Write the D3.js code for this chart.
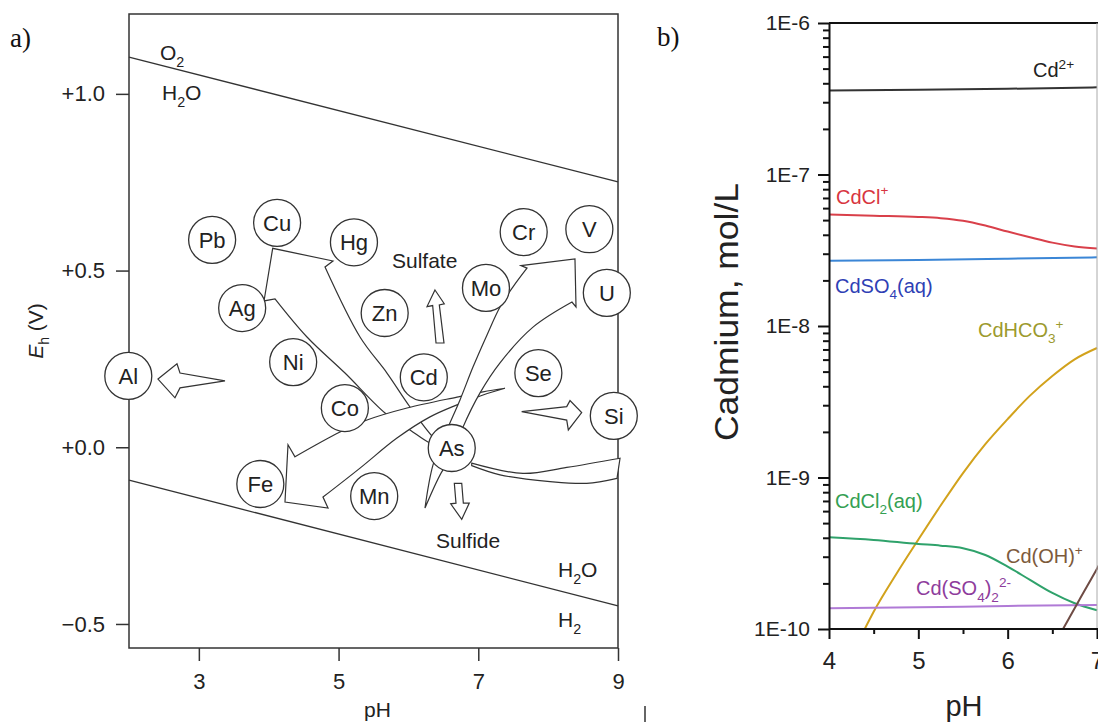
<!DOCTYPE html>
<html>
<head>
<meta charset="utf-8">
<script src="https://cdn.jsdelivr.net/npm/d3@7"></script>
<style>
  body { margin: 0; background: #fff; }
  svg { display: block; font-family: "Liberation Sans", Arial, Helvetica, sans-serif; }
</style>
</head>
<body>
<div id="chart"></div>
<script>
// Panel a: Eh-pH diagram with element mobility arrows
// Panel b: cadmium speciation vs pH (log scale)

// ---------- panel a data ----------
var waterPH = [2, 9];
var o2Line = [1.104, 0.751];    // O2 / H2O boundary (V)
var h2Line = [-0.093, -0.449];  // H2O / H2 boundary (V)

var elementNames = ["Pb", "Cu", "Hg", "Cr", "V", "Mo", "U", "Zn", "Ag", "Ni", "Cd", "Se", "Al", "Co", "Si", "As", "Fe", "Mn"];
var elementPH = [3.19, 4.12, 5.22, 7.65, 8.59, 7.11, 8.84, 5.66, 3.62, 4.35, 6.22, 7.86, 1.99, 5.09, 8.94, 6.62, 3.88, 5.51];
var elementEh = [0.587, 0.635, 0.580, 0.609, 0.617, 0.451, 0.437, 0.380, 0.394, 0.241, 0.198, 0.210, 0.202, 0.111, 0.089, -0.002, -0.104, -0.138];

// straight hollow arrows, outline points [pH, Eh]
var arrowAl = [[2.415, 0.193], [2.687, 0.236], [2.730, 0.210], [3.374, 0.188], [2.730, 0.168], [2.658, 0.140]];
var arrowSi = [[7.621, 0.101], [8.266, 0.115], [8.313, 0.132], [8.480, 0.098], [8.289, 0.049], [8.266, 0.077]];
var arrowSulfate = [[6.380, 0.445], [6.513, 0.406], [6.442, 0.403], [6.509, 0.295], [6.395, 0.295], [6.347, 0.401], [6.266, 0.398]];
var arrowSulfide = [[6.657, -0.102], [6.763, -0.102], [6.786, -0.158], [6.871, -0.158], [6.763, -0.204], [6.605, -0.160], [6.681, -0.158]];

// curved arrows, given as a list of edges (each edge smoothed on its own)
var arrowCu = [
  [[6.524, 0.001], [6.309, 0.012], [6.023, 0.049], [5.665, 0.097], [5.092, 0.210], [4.548, 0.312], [4.090, 0.420]],
  [[4.090, 0.420], [3.933, 0.414]],
  [[3.933, 0.414], [4.057, 0.563]],
  [[4.057, 0.563], [4.920, 0.527]],
  [[4.920, 0.527], [4.806, 0.510]],
  [[4.806, 0.510], [5.307, 0.312], [5.693, 0.210], [6.023, 0.114], [6.352, 0.029], [6.524, 0.001]]
];
var arrowFe = [
  [[7.382, 0.167], [7.068, 0.157], [6.695, 0.142], [5.980, 0.111], [5.407, 0.077], [5.020, 0.043], [4.376, -0.027]],
  [[4.376, -0.027], [4.276, 0.007]],
  [[4.276, 0.007], [4.233, -0.155]],
  [[4.233, -0.155], [4.849, -0.172]],
  [[4.849, -0.172], [4.777, -0.141]],
  [[4.777, -0.141], [5.307, -0.059], [5.836, 0.026], [6.309, 0.086], [6.695, 0.120], [7.068, 0.148], [7.382, 0.167]]
];
var arrowV = [
  [[6.237, -0.172], [6.352, -0.050], [6.538, 0.043], [6.738, 0.134], [6.924, 0.227], [7.125, 0.318], [7.311, 0.397], [7.497, 0.454], [7.697, 0.507]],
  [[7.697, 0.507], [7.611, 0.514]],
  [[7.611, 0.514], [8.384, 0.533]],
  [[8.384, 0.533], [8.399, 0.397]],
  [[8.399, 0.397], [8.341, 0.411]],
  [[8.341, 0.411], [7.783, 0.340], [7.311, 0.239], [7.025, 0.154], [6.781, 0.057], [6.595, -0.042], [6.495, -0.064], [6.237, -0.172]]
];
var arrowAsSi = [
  [[6.906, -0.045], [7.640, -0.074], [8.266, -0.057], [9.029, -0.031]],
  [[9.029, -0.031], [8.986, -0.088]],
  [[8.986, -0.088], [8.552, -0.102], [8.027, -0.097], [7.311, -0.078], [6.906, -0.052]]
];

// ---------- panel b data ----------
var phFlat = [4, 5, 6, 7];
var cd2Plus = [3.58e-7, 3.62e-7, 3.68e-7, 3.76e-7];
var cdSO4 = [2.70e-8, 2.73e-8, 2.78e-8, 2.84e-8];
var cdSO4x2 = [1.37e-10, 1.39e-10, 1.42e-10, 1.44e-10];

var phChloride = [4, 4.5, 5, 5.25, 5.5, 5.75, 6, 6.25, 6.5, 6.75, 7];
var cdClPlus = [5.45e-8, 5.35e-8, 5.25e-8, 5.15e-8, 4.95e-8, 4.6e-8, 4.2e-8, 3.85e-8, 3.55e-8, 3.35e-8, 3.25e-8];
var cdCl2 = [4.03e-10, 3.87e-10, 3.64e-10, 3.55e-10, 3.41e-10, 3.08e-10, 2.58e-10, 2.11e-10, 1.73e-10, 1.48e-10, 1.33e-10];

var phBicarb = [4.4, 4.5, 4.75, 5, 5.25, 5.5, 5.75, 6, 6.25, 6.5, 6.75, 7];
var cdHCO3 = [1.0e-10, 1.3e-10, 2.29e-10, 3.89e-10, 6.53e-10, 1.07e-9, 1.66e-9, 2.43e-9, 3.47e-9, 4.68e-9, 6.03e-9, 7.16e-9];

var phHydroxo = [6.62, 6.8, 7.0, 7.1];
var cdOHPlus = [1.0e-10, 1.55e-10, 2.5e-10, 3.2e-10];

var speciesLabelParts = [
  [["Cd", ""], ["2+", "sup"]],
  [["CdCl", ""], ["+", "sup"]],
  [["CdSO", ""], ["4", "sub"], ["(aq)", ""]],
  [["CdHCO", ""], ["3", "sub"], ["+", "sup"]],
  [["CdCl", ""], ["2", "sub"], ["(aq)", ""]],
  [["Cd(SO", ""], ["4", "sub"], [")", ""], ["2", "sub"], ["2-", "sup"]],
  [["Cd(OH)", ""], ["+", "sup"]]
];
var speciesLabelPH = [6.284, 4.078, 4.067, 5.668, 4.067, 4.974, 5.981];
var speciesLabelConc = [4.4e-7, 6.4e-8, 1.65e-8, 8.45e-9, 6.3e-10, 1.67e-10, 2.73e-10];
var speciesLabelColor = ["#222", "#d8353f", "#2f3fb5", "#9c9a2e", "#34a053", "#8e3c9c", "#7d5a3c"];

// ---------- set up ----------
var svgWidth = 1098;
var svgHeight = 724;

var svg = d3.select("#chart")
  .append("svg")
  .attr("width", svgWidth)
  .attr("height", svgHeight);

// writes text with sub/superscript pieces as tspans
function richText(sel, parts, fs) {
  var shift = 0;
  parts.forEach(function(p) {
    var target = p[1] === "sub" ? 0.32 * fs : p[1] === "sup" ? -0.42 * fs : 0;
    sel.append("tspan")
      .attr("dy", target - shift)
      .attr("font-size", p[1] ? fs * 0.68 : fs)
      .text(p[0]);
    shift = target;
  });
}

// =================================
// Panel a
// =================================
var xA = d3.scaleLinear().domain([2, 9]).range([129, 618]);
var yA = d3.scaleLinear().domain([-0.568, 1.226]).range([648, 14]);

var gA = svg.append("g");

gA.append("text")
  .attr("x", 10).attr("y", 47)
  .attr("font-family", "'Liberation Serif', 'Times New Roman', serif")
  .attr("font-size", 27)
  .attr("fill", "#111")
  .text("a)");

// frame
gA.append("rect")
  .attr("x", xA(2)).attr("y", yA(1.226))
  .attr("width", xA(9) - xA(2))
  .attr("height", yA(-0.568) - yA(1.226))
  .attr("fill", "none")
  .attr("stroke", "#333")
  .attr("stroke-width", 1.5);

// axes
var ehFormat = function(d) {
  if (d < 0) return "\u2212" + Math.abs(d).toFixed(1);
  return "+" + d.toFixed(1);
};
var axA = gA.append("g")
  .attr("transform", "translate(" + xA(2) + ",0)")
  .call(d3.axisLeft(yA).tickValues([1.0, 0.5, 0, -0.5]).tickFormat(ehFormat).tickSize(13).tickPadding(11).tickSizeOuter(0));
var bxA = gA.append("g")
  .attr("transform", "translate(0," + yA(-0.568) + ")")
  .call(d3.axisBottom(xA).tickValues([3, 5, 7, 9]).tickFormat(d3.format("d")).tickSize(13).tickPadding(12).tickSizeOuter(0));
[axA, bxA].forEach(function(a) {
  a.select(".domain").remove();
  a.selectAll(".tick line").attr("stroke", "#333").attr("stroke-width", 1.5);
  a.selectAll(".tick text").attr("font-size", 22).attr("fill", "#222")
    .attr("font-family", "'Liberation Sans', Arial, sans-serif");
});

gA.append("text")
  .attr("x", (xA(2) + xA(9)) / 2 + 4).attr("y", 717)
  .attr("text-anchor", "middle")
  .attr("font-size", 21).attr("fill", "#222")
  .text("pH");

var ehLabel = gA.append("text")
  .attr("transform", "translate(43,331) rotate(-90)")
  .attr("text-anchor", "middle")
  .attr("font-size", 21).attr("fill", "#222");
ehLabel.append("tspan").attr("font-style", "italic").text("E");
ehLabel.append("tspan").attr("font-size", 14).attr("dy", 6).text("h");
ehLabel.append("tspan").attr("dy", -6).text(" (V)");

// water stability lines
var lineA = d3.line().x(function(d) { return xA(d[0]); }).y(function(d) { return yA(d[1]); });
[o2Line, h2Line].forEach(function(vals) {
  gA.append("path")
    .datum(waterPH.map(function(p, i) { return [p, vals[i]]; }))
    .attr("d", lineA)
    .attr("fill", "none")
    .attr("stroke", "#333")
    .attr("stroke-width", 1.3);
});

// curved arrows
var edgeLine = d3.line()
  .x(function(d) { return xA(d[0]); })
  .y(function(d) { return yA(d[1]); })
  .curve(d3.curveCatmullRom.alpha(0.5));

function edgesPath(edges) {
  return edges.map(function(e, i) {
    var s = edgeLine(e);
    return i ? s.replace(/^M[^CLZ]*/, "") : s;
  }).join("") + "Z";
}

[arrowCu, arrowFe, arrowV, arrowAsSi].forEach(function(a) {
  gA.append("path")
    .attr("d", edgesPath(a))
    .attr("fill", "#fff")
    .attr("stroke", "#333")
    .attr("stroke-width", 1.2)
    .attr("stroke-linejoin", "miter");
});

// straight arrows
var polyLine = d3.line()
  .x(function(d) { return xA(d[0]); })
  .y(function(d) { return yA(d[1]); })
  .curve(d3.curveLinearClosed);

[arrowAl, arrowSi, arrowSulfate, arrowSulfide].forEach(function(a) {
  gA.append("path")
    .attr("d", polyLine(a))
    .attr("fill", "#fff")
    .attr("stroke", "#333")
    .attr("stroke-width", 1.2);
});

// element bubbles
var bubbles = gA.selectAll(".element")
  .data(elementNames)
  .enter()
  .append("g")
  .attr("class", "element")
  .attr("transform", function(d, i) { return "translate(" + xA(elementPH[i]) + "," + yA(elementEh[i]) + ")"; });
bubbles.append("circle")
  .attr("r", 23.5)
  .attr("fill", "#fff")
  .attr("stroke", "#333")
  .attr("stroke-width", 1.3);
bubbles.append("text")
  .attr("text-anchor", "middle")
  .attr("dy", "0.36em")
  .attr("font-size", 22)
  .attr("fill", "#222")
  .text(function(d) { return d; });

// region labels
var regionLabels = [
  { parts: [["O", ""], ["2", "sub"]], ph: 2.444, eh: 1.096 },
  { parts: [["H", ""], ["2", "sub"], ["O", ""]], ph: 2.472, eh: 0.983 },
  { parts: [["Sulfate", ""]], ph: 5.765, eh: 0.507 },
  { parts: [["Sulfide", ""]], ph: 6.395, eh: -0.284 },
  { parts: [["H", ""], ["2", "sub"], ["O", ""]], ph: 8.141, eh: -0.367 },
  { parts: [["H", ""], ["2", "sub"]], ph: 8.141, eh: -0.509 }
];
regionLabels.forEach(function(l) {
  var t = gA.append("text")
    .attr("x", xA(l.ph)).attr("y", yA(l.eh))
    .attr("fill", "#222");
  richText(t, l.parts, 21);
});

// =================================
// Panel b
// =================================
var xB = d3.scaleLinear().domain([4, 7]).range([829, 1097]);
var yB = d3.scaleLog().domain([1e-10, 1e-6]).range([629, 23]);

var gB = svg.append("g");

gB.append("text")
  .attr("x", 657).attr("y", 46)
  .attr("font-family", "'Liberation Serif', 'Times New Roman', serif")
  .attr("font-size", 27)
  .attr("fill", "#111")
  .text("b)");

gB.append("clipPath").attr("id", "clipB")
  .append("rect")
  .attr("x", xB(4)).attr("y", yB(1e-6))
  .attr("width", svgWidth - xB(4))
  .attr("height", yB(1e-10) - yB(1e-6));

// series
var series = [
  { ph: phFlat, vals: cd2Plus, color: "#333333" },
  { ph: phChloride, vals: cdClPlus, color: "#d9404a" },
  { ph: phFlat, vals: cdSO4, color: "#3b86d6" },
  { ph: phBicarb, vals: cdHCO3, color: "#d2a21c" },
  { ph: phChloride, vals: cdCl2, color: "#2fa26b" },
  { ph: phFlat, vals: cdSO4x2, color: "#b07ad6" },
  { ph: phHydroxo, vals: cdOHPlus, color: "#6e4b44" }
];
var lineB = d3.line()
  .x(function(d) { return xB(d[0]); })
  .y(function(d) { return yB(d[1]); })
  .curve(d3.curveMonotoneX);

gB.append("g").attr("clip-path", "url(#clipB)")
  .selectAll("path")
  .data(series)
  .enter()
  .append("path")
  .attr("d", function(s) { return lineB(s.ph.map(function(p, i) { return [p, s.vals[i]]; })); })
  .attr("fill", "none")
  .attr("stroke", function(s) { return s.color; })
  .attr("stroke-width", 2);

// species labels
speciesLabelParts.forEach(function(parts, i) {
  var t = gB.append("text")
    .attr("x", xB(speciesLabelPH[i]))
    .attr("y", yB(speciesLabelConc[i]))
    .attr("fill", speciesLabelColor[i]);
  richText(t, parts, 20);
});

// frame lines (top and right edge)
gB.append("line")
  .attr("x1", xB(4)).attr("x2", svgWidth)
  .attr("y1", yB(1e-6)).attr("y2", yB(1e-6))
  .attr("stroke", "#111").attr("stroke-width", 2);
gB.append("line")
  .attr("x1", xB(7)).attr("x2", xB(7))
  .attr("y1", yB(1e-6)).attr("y2", yB(1e-10))
  .attr("stroke", "#aaa").attr("stroke-width", 1);

// axes
var minorY = [];
[-10, -9, -8, -7].forEach(function(e) {
  for (var m = 2; m <= 9; m++) minorY.push(m * Math.pow(10, e));
});
var leftB = gB.append("g")
  .attr("transform", "translate(" + xB(4) + ",0)")
  .call(d3.axisLeft(yB)
    .tickValues([1e-6, 1e-7, 1e-8, 1e-9, 1e-10])
    .tickFormat(function(d) { return "1E" + Math.round(Math.log10(d)); })
    .tickSize(11).tickPadding(8).tickSizeOuter(0));
var leftMinor = gB.append("g")
  .attr("transform", "translate(" + xB(4) + ",0)")
  .call(d3.axisLeft(yB).tickValues(minorY).tickFormat("").tickSize(6).tickSizeOuter(0));
var bottomB = gB.append("g")
  .attr("transform", "translate(0," + yB(1e-10) + ")")
  .call(d3.axisBottom(xB).tickValues([4, 5, 6, 7]).tickFormat(d3.format("d")).tickSize(10).tickPadding(13).tickSizeOuter(0));
var bottomMinor = gB.append("g")
  .attr("transform", "translate(0," + yB(1e-10) + ")")
  .call(d3.axisBottom(xB).tickValues([4.5, 5.5, 6.5]).tickFormat("").tickSize(5).tickSizeOuter(0));

[leftB, leftMinor, bottomB, bottomMinor].forEach(function(a) {
  a.select(".domain").attr("stroke", "#111").attr("stroke-width", 2);
  a.selectAll(".tick line").attr("stroke", "#111").attr("stroke-width", 2);
});
bottomB.select(".domain").attr("d", "M" + xB(4) + ",0H" + svgWidth);
bottomMinor.select(".domain").remove();
leftMinor.select(".domain").remove();
leftB.selectAll(".tick text").attr("font-size", 21).attr("fill", "#222")
  .attr("font-family", "'Liberation Sans', Arial, sans-serif");
bottomB.selectAll(".tick text").attr("font-size", 24).attr("fill", "#222")
  .attr("font-family", "'Liberation Sans', Arial, sans-serif");

gB.append("text")
  .attr("x", 964).attr("y", 716)
  .attr("text-anchor", "middle")
  .attr("font-size", 29).attr("fill", "#222")
  .text("pH");

gB.append("text")
  .attr("transform", "translate(738,312) rotate(-90)")
  .attr("text-anchor", "middle")
  .attr("font-size", 33)
  .attr("textLength", 258)
  .attr("lengthAdjust", "spacingAndGlyphs")
  .attr("fill", "#222")
  .text("Cadmium, mol/L");

// small stray mark between the panels
svg.append("line")
  .attr("x1", 645).attr("x2", 645)
  .attr("y1", 706).attr("y2", 722)
  .attr("stroke", "#333").attr("stroke-width", 1.5);
</script>
</body>
</html>
